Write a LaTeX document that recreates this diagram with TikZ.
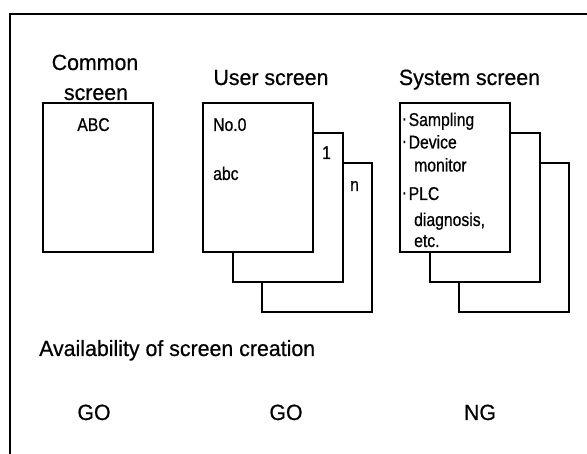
\documentclass[tikz,border=0pt]{standalone}
\usepackage{fontspec}
\setmainfont[FakeStretch=0.97,FakeBold=0.6]{Liberation Sans}
\newfontfamily\narrowfont[FakeStretch=0.85,FakeBold=0.6]{Liberation Sans}
\begin{document}
\begin{tikzpicture}[x=1pt,y=-1pt,
  scr/.style={draw,line width=2pt,fill=white,minimum width=110pt,minimum height=149pt,anchor=north west,inner sep=0pt,outer sep=0pt},
  big/.style={font=\fontsize{22}{24}\selectfont,inner sep=0pt},
  small/.style={font=\narrowfont\fontsize{18.5}{20}\selectfont,inner sep=0pt,anchor=base west}]
\useasboundingbox (0,0) rectangle (587,454);
\coordinate (tl) at (10,14);
\coordinate (tr) at (590,14);
\coordinate (bl) at (10,457);
\draw[line width=2pt] (tr) -- (tl) -- (bl);
% common screen
\node[big,anchor=base] (t1) at (95,70) {Common};
\node[big,anchor=base] (t2) at (96,100) {screen};
\node[scr] (c) at (43,103) {};
\node[small,anchor=base] (abc1) at (93.5,131) {ABC};
% user screen
\node[big,anchor=base] (t3) at (271,85) {User screen};
\node[scr] (u3) at (261.5,163) {};
\node[scr] (u2) at (232.5,133) {};
\node[scr] (u1) at (203,103) {};
\node[small] (no0) at (213,131) {No.0};
\node[small] (abc2) at (213,180) {abc};
\node[small] (one) at (322,159) {1};
\node[small] (nn) at (350,191) {n};
% system screen
\node[big,anchor=base] (t4) at (469.5,85) {System screen};
\node[scr] (s3) at (458.5,163) {};
\node[scr] (s2) at (429.5,133) {};
\node[scr] (s1) at (400,103) {};
\node[small] (l1) at (401.5,126) {\makebox[7pt][l]{\raisebox{1.5pt}{·}}Sampling};
\node[small] (l2) at (401.5,148.5) {\makebox[7pt][l]{\raisebox{1.5pt}{·}}Device};
\node[small] (l3) at (414,171.5) {monitor};
\node[small] (l4) at (401.5,200) {\makebox[7pt][l]{\raisebox{1.5pt}{·}}PLC};
\node[small] (l5) at (414,226) {diagnosis,};
\node[small] (l6) at (414,247) {etc.};
% bottom
\node[big,anchor=base west] (av) at (39,356) {Availability of screen creation};
\node[big,anchor=base] (g1) at (94,420) {GO};
\node[big,anchor=base] (g2) at (286,420) {GO};
\node[big,anchor=base] (g3) at (480,420) {NG};
\end{tikzpicture}
\end{document}
